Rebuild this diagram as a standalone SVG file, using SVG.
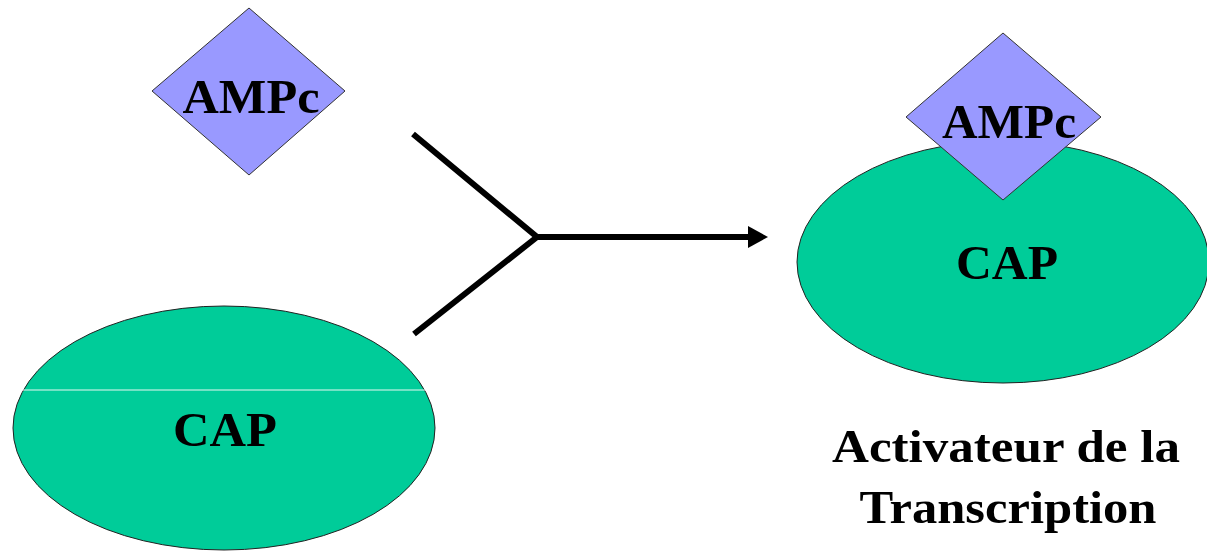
<svg xmlns="http://www.w3.org/2000/svg" width="1207" height="551" viewBox="0 0 1207 551">
<style>
.cap{fill:#00CC99;stroke:#222;stroke-width:1}
.amp{fill:#9999FF;stroke:#333;stroke-width:1}
.lbl{font-family:"Liberation Serif","Times New Roman",serif;font-weight:bold;font-size:49px;fill:#000;text-anchor:middle}
.big{font-family:"Liberation Serif","Times New Roman",serif;font-weight:bold;font-size:46px;fill:#000;text-anchor:middle}
.conn{stroke:#000;stroke-width:6;fill:none;stroke-linecap:butt}
</style>
<defs>
<marker id="arrow" markerUnits="userSpaceOnUse" markerWidth="24" markerHeight="24" refX="4" refY="11" orient="auto">
<path d="M0,0 L20,11 L0,22 Z" fill="#000"/>
</marker>
</defs>
<rect width="1207" height="551" fill="#fff"/>
<g id="ampc-left">
<polygon class="amp" points="249,8 345,91 249,175 152,91"/>
<text class="lbl" x="251" y="113" textLength="137" lengthAdjust="spacingAndGlyphs">AMPc</text>
</g>
<g id="cap-left">
<ellipse class="cap" cx="224" cy="428" rx="211" ry="122"/>
<line x1="23" y1="390" x2="425" y2="390" stroke="#e8f8f2" stroke-width="1"/>
<text class="lbl" x="225" y="446" textLength="104" lengthAdjust="spacingAndGlyphs">CAP</text>
</g>
<g id="connectors">
<polyline class="conn" points="413,134 537,237 414,334"/>
<line class="conn" x1="537" y1="237" x2="752" y2="237" marker-end="url(#arrow)"/>
</g>
<g id="complex">
<ellipse class="cap" cx="1003" cy="262" rx="206" ry="121"/>
<polygon class="amp" points="1003,33 1101,117 1003,200 906,117"/>
<text class="lbl" x="1009" y="138" textLength="134" lengthAdjust="spacingAndGlyphs">AMPc</text>
<text class="lbl" x="1007" y="279" textLength="102" lengthAdjust="spacingAndGlyphs">CAP</text>
</g>
<g id="label">
<text class="big" x="1006" y="462" textLength="348" lengthAdjust="spacingAndGlyphs">Activateur de la</text>
<text class="big" x="1008" y="523" textLength="297" lengthAdjust="spacingAndGlyphs">Transcription</text>
</g>
</svg>
